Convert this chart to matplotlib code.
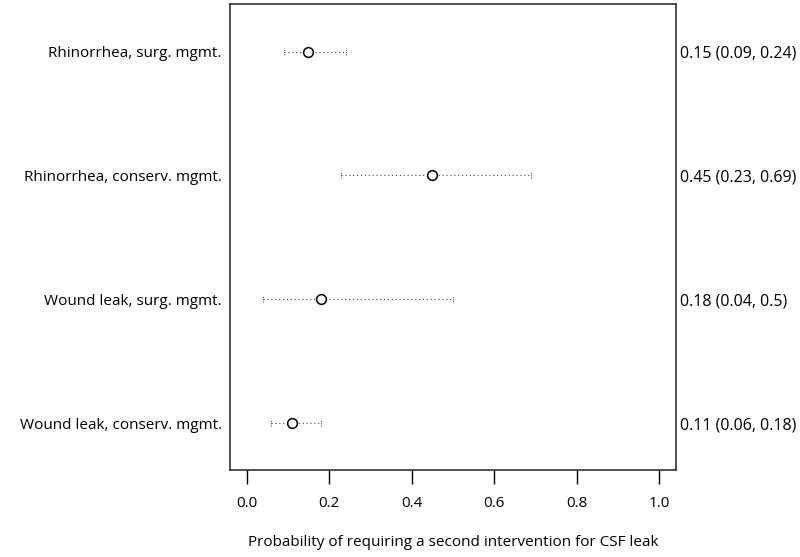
import numpy as np
import matplotlib.pyplot as plt

plt.rcParams['font.family'] = ['Open Sans', 'DejaVu Sans']

labels = ["Rhinorrhea, surg. mgmt.", "Rhinorrhea, conserv. mgmt.",
          "Wound leak, surg. mgmt.", "Wound leak, conserv. mgmt."]
est = [0.15, 0.45, 0.18, 0.11]
lo = [0.09, 0.23, 0.04, 0.06]
hi = [0.24, 0.69, 0.5, 0.18]
ci_text = ["0.15 (0.09, 0.24)", "0.45 (0.23, 0.69)",
           "0.18 (0.04, 0.5)", "0.11 (0.06, 0.18)"]
xticks = [0.0, 0.2, 0.4, 0.6, 0.8, 1.0]

fig = plt.figure(figsize=(8, 5.57), dpi=100)
ax = fig.add_axes([0.2875, 0.156, 0.5575, 0.836])

ypos = np.arange(len(labels), 0, -1)

for y, e, l, h in zip(ypos, est, lo, hi):
    ax.plot([l, h], [y, y], color='#444444', lw=0.8, linestyle=(0, (1, 2.5)))
    ax.plot([l, l], [y - 0.025, y + 0.025], color='#555555', lw=0.8, linestyle=(0, (1, 1)))
    ax.plot([h, h], [y - 0.025, y + 0.025], color='#555555', lw=0.8, linestyle=(0, (1, 1)))
ax.plot(est, ypos, 'o', mfc='white', mec='black', ms=7, mew=1.1, zorder=3)

ax.set_xlim(-0.04, 1.04)
ax.set_ylim(0.62, 4.38)
ax.set_xticks(xticks)
ax.set_xticklabels(["%.1f" % t for t in xticks], fontsize=11)
ax.tick_params(axis='x', length=10, width=1, pad=9)
ax.set_yticks(ypos)
ax.set_yticklabels(labels, fontsize=11)
ax.tick_params(axis='y', length=0, pad=6)

for y, t in zip(ypos, ci_text):
    ax.text(1.05, y, t, fontsize=11.5, va='center_baseline', ha='left')

for s in ax.spines.values():
    s.set_linewidth(1.1)
    s.set_color('#222222')

ax.set_xlabel("Probability of requiring a second intervention for CSF leak", fontsize=11, labelpad=17)

fig.savefig("out.png", dpi=100)
